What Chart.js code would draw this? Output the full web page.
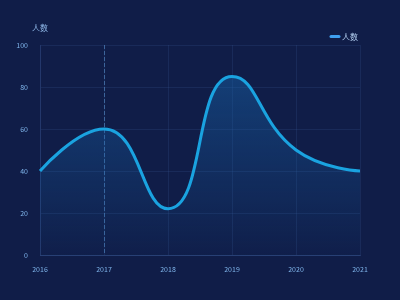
<!DOCTYPE html>
<html><head><meta charset="utf-8">
<script src="https://cdn.jsdelivr.net/npm/chart.js@4/dist/chart.umd.min.js"></script>
<style>html,body{margin:0;padding:0;background:#101d48;}#wrap{width:400px;height:300px;}</style>
</head><body><div id="wrap"><canvas id="c" width="400" height="300"></canvas></div>
<script>
const years = ['2016','2017','2018','2019','2020','2021'];
const people = [40, 60, 22, 85, 50, 40];
const yTicks = [0, 20, 40, 60, 80, 100];
const seriesName = '人数';
const highlightIndex = 1;
const smooth = 0.5;

const FONT = '"Noto Sans CJK SC", "Noto Sans", sans-serif';

// ECharts-like smoothing of the line's control points (computed from scale pixels)
const smoother = {
  id: 'smoother',
  afterDatasetsUpdate(chart) {
    const meta = chart.getDatasetMeta(0);
    const pts = meta.data;
    const n = pts.length;
    const mn = Math.min, mx = Math.max;
    for (let i = 0; i < n; i++) {
      const p = pts[i];
      const x = p.x, y = p.y;
      if (i === 0 || i === n - 1) { p.cp1x = x; p.cp1y = y; p.cp2x = x; p.cp2y = y; continue; }
      const prevX = pts[i - 1].x, prevY = pts[i - 1].y, nextX = pts[i + 1].x, nextY = pts[i + 1].y;
      let vx = nextX - prevX, vy = nextY - prevY;
      const dx0 = x - prevX, dx1 = nextX - x, dy0 = y - prevY, dy1 = nextY - y;
      const lp = Math.sqrt(dx0 * dx0 + dy0 * dy0);
      const ln = Math.sqrt(dx1 * dx1 + dy1 * dy1);
      const r = ln / (ln + lp);
      let ncx = x + vx * smooth * r, ncy = y + vy * smooth * r;
      ncx = mn(ncx, mx(nextX, x)); ncy = mn(ncy, mx(nextY, y));
      ncx = mx(ncx, mn(nextX, x)); ncy = mx(ncy, mn(nextY, y));
      vx = ncx - x; vy = ncy - y;
      let c1x = x - vx * lp / ln, c1y = y - vy * lp / ln;
      c1x = mn(c1x, mx(prevX, x)); c1y = mn(c1y, mx(prevY, y));
      c1x = mx(c1x, mn(prevX, x)); c1y = mx(c1y, mn(prevY, y));
      vx = x - c1x; vy = y - c1y;
      p.cp1x = c1x; p.cp1y = c1y;
      p.cp2x = x + vx * ln / lp; p.cp2y = y + vy * ln / lp;
    }
    meta.dataset._pointsUpdated = true;
  }
};

const decor = {
  id: 'decor',
  beforeDatasetsDraw(chart) {
    const {ctx, chartArea, scales} = chart;
    const x = scales.x.getPixelForValue(highlightIndex);
    ctx.save();
    ctx.strokeStyle = 'rgba(85,140,200,0.6)';
    ctx.lineWidth = 1;
    ctx.setLineDash([4, 2]);
    ctx.beginPath();
    ctx.moveTo(Math.round(x) + 0.5, chartArea.top);
    ctx.lineTo(Math.round(x) + 0.5, chartArea.bottom);
    ctx.stroke();
    ctx.restore();
  },
  afterDraw(chart) {
    const {ctx, chartArea} = chart;
    ctx.save();
    ctx.font = '8px ' + FONT;
    ctx.fillStyle = '#8fb8e8';
    ctx.textAlign = 'center';
    ctx.textBaseline = 'middle';
    ctx.fillText(seriesName, chartArea.left, 28);
    const lx = chartArea.right - 30;
    ctx.strokeStyle = '#3f9ff0';
    ctx.lineWidth = 3;
    ctx.lineCap = 'round';
    ctx.beginPath();
    ctx.moveTo(lx + 1, 36.5);
    ctx.lineTo(lx + 9, 36.5);
    ctx.stroke();
    ctx.textAlign = 'left';
    ctx.fillStyle = '#b4d0f2';
    ctx.fillText(seriesName, lx + 12, 36.5);
    ctx.restore();
  }
};

new Chart(document.getElementById('c'), {
  type: 'line',
  data: {
    labels: years,
    datasets: [{
      label: seriesName,
      data: people,
      borderColor: '#1aa3e0',
      borderWidth: 3,
      pointRadius: 0,
      tension: 0.4,
      fill: 'origin',
      backgroundColor(ctx) {
        const ca = ctx.chart.chartArea;
        if (!ca) return 'rgba(30,120,200,0.2)';
        const g = ctx.chart.ctx.createLinearGradient(0, ca.top, 0, ca.bottom);
        g.addColorStop(0, 'rgba(24,100,170,0.55)');
        g.addColorStop(1, 'rgba(24,100,170,0.03)');
        return g;
      }
    }]
  },
  options: {
    responsive: false,
    animation: false,
    layout: {padding: {top: 45, right: 40, left: 0, bottom: 0}},
    plugins: {legend: {display: false}, tooltip: {enabled: false}},
    scales: {
      x: {
        offset: false,
        grid: {color: 'rgba(60,90,150,0.22)', drawTicks: false},
        border: {color: 'rgba(60,90,150,0.45)'},
        ticks: {color: '#7fb4ea', font: {size: 7, family: FONT}, padding: 10, maxRotation: 0},
        afterFit(s) { s.height = 45; }
      },
      y: {
        min: 0, max: 100,
        afterBuildTicks(s) { s.ticks = yTicks.map(v => ({value: v})); },
        grid: {color: 'rgba(60,90,150,0.22)', drawTicks: false},
        border: {color: 'rgba(60,90,150,0.3)'},
        ticks: {color: '#7fb4ea', font: {size: 7, family: FONT}, padding: 12},
        afterFit(s) { s.width = 40; }
      }
    }
  },
  plugins: [smoother, decor]
});
</script></body></html>
